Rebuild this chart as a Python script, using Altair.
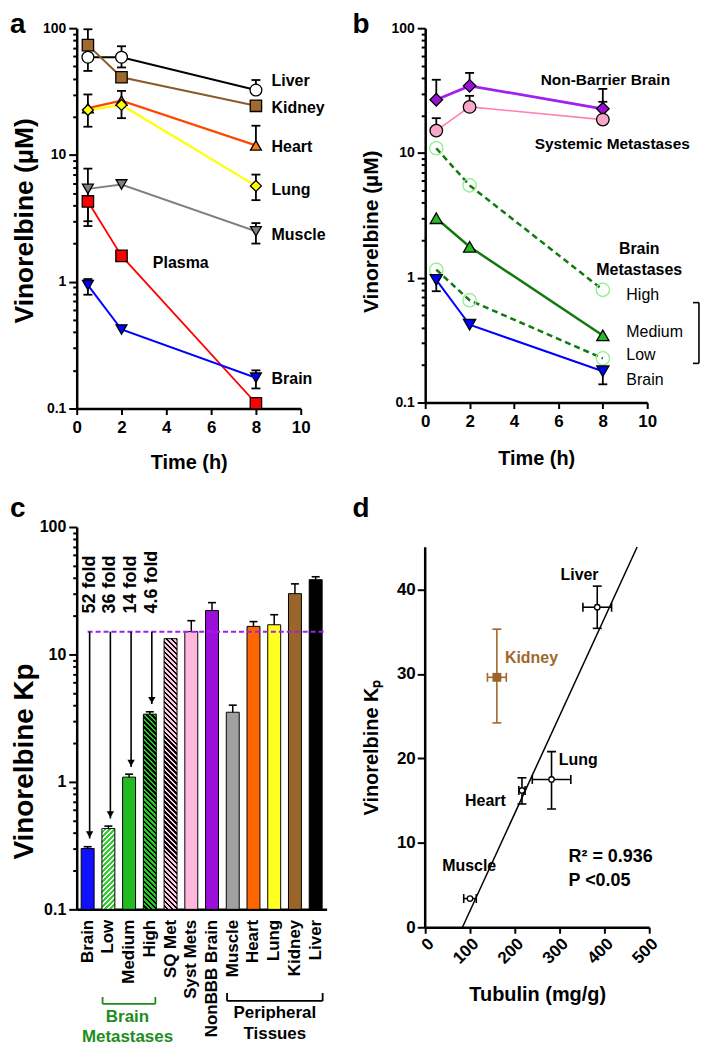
import math
import altair as alt
import pandas as pd

FONT = "Liberation Sans"

# ---------------- data: panel a ----------------
TIMES = [0.5, 2, 8]
A_LIVER = [59, 59, 32.5]
A_LIVER_HI = [72, 72, 39]
A_LIVER_LO = [46, 49, None]
A_KIDNEY = [73.5, 41, 24.4]
A_KIDNEY_HI = [98, None, None]
A_KIDNEY_LO = [None, None, None]
A_HEART = [23.4, 26.8, 11.9]
A_HEART_HI = [30, 32, 17]
A_HEART_LO = [16.7, 19.5, None]
A_LUNG = [22.6, 24.8, 5.7]
A_LUNG_HI = [None, None, 7.0]
A_LUNG_LO = [None, None, 4.4]
A_MUSCLE = [5.4, 5.85, 2.5]
A_MUSCLE_HI = [7.8, None, 2.9]
A_MUSCLE_LO = [3.0, None, 2.0]
A_PLASMA = [4.3, 1.6, 0.11]
A_PLASMA_HI = [None, None, None]
A_PLASMA_LO = [2.75, None, None]
A_BRAIN = [0.94, 0.42, 0.175]
A_BRAIN_HI = [1.05, None, 0.2]
A_BRAIN_LO = [0.79, None, 0.144]
A_LABELS = ["Liver", "Kidney", "Heart", "Lung", "Muscle", "Plasma", "Brain"]
A_LABEL_T = [8.7, 8.7, 8.7, 8.7, 8.7, 3.4, 8.7]
A_LABEL_V = [38.4, 23.5, 11.6, 5.25, 2.32, 1.40, 0.172]

# ---------------- data: panel b ----------------
B_NONBBB = [26.7, 34.5, 22.6]
B_NONBBB_HI = [38.6, 43.8, 32.6]
B_SYST = [15.1, 23.4, 18.5]
B_SYST_HI = [19.0, 28.7, 25.7]
B_HIGH = [10.9, 5.5, 0.80]
B_MEDIUM = [3.0, 1.77, 0.345]
B_LOW = [1.16, 0.66, 0.226]
B_BRAIN = [0.96, 0.42, 0.178]
B_BRAIN_LO = [0.78, None, 0.14]
NONE3 = [None, None, None]
B_BOLD_LABELS = ["Non-Barrier Brain", "Systemic Metastases"]
B_BOLD_T = [5.2, 4.93]
B_BOLD_V = [38.5, 11.9]
B_HEAD_LABELS = ["Brain", "Metastases"]
B_HEAD_T = [9.64, 9.64]
B_HEAD_V = [1.70, 1.16]
B_LEVEL_LABELS = ["High", "Medium", "Low", "Brain"]
B_LEVEL_T = [9.06, 9.06, 9.06, 9.06]
B_LEVEL_V = [0.732, 0.365, 0.24, 0.151]
B_BRACKET_T = [12.06, 12.33]
B_BRACKET_V = [0.632, 0.206]

# ---------------- data: panel c ----------------
C_CATS = ["Brain", "Low", "Medium", "High", "SQ Met", "Syst Mets", "NonBBB Brain",
          "Muscle", "Heart", "Lung", "Kidney", "Liver"]
C_KP = [0.30, 0.43, 1.09, 3.4, 13.3, 15.1, 22.1, 3.52, 16.6, 17.1, 30.0, 38.6]
C_KP_HI = [0.31, 0.45, 1.15, 3.55, None, 18.4, 25.5, 4.0, 18.1, 20.5, 35.8, 40.7]
C_REF = 15.1
C_FOLD_CATS = ["Brain", "Low", "Medium", "High"]
C_FOLD_TEXT = ["52 fold", "36 fold", "14 fold", "4.6 fold"]

# ---------------- data: panel d ----------------
D_NAMES = ["Muscle", "Heart", "Lung", "Liver", "Kidney"]
D_TUB = [100, 216, 282, 384, 160]
D_TUB_ERR = [14, 7, 43, 32, 21]
D_KP = [3.4, 16.2, 17.5, 37.9, 29.6]
D_KP_LO = [None, 14.6, 14.0, 35.4, 24.2]
D_KP_HI = [None, 17.7, 20.8, 40.4, 35.3]
D_FIT = ["Muscle", "Heart", "Lung", "Liver"]
D_LABELS = ["Liver", "Lung", "Muscle"]
D_LABEL_X = [302, 298, 38]
D_LABEL_Y = [41.7, 19.8, 7.2]
D_STATS = ["R² = 0.936", "P <0.05"]
D_STATS_X = [320, 320]
D_STATS_Y = [8.3, 5.5]

# ---------------- helpers ----------------
LOG_TICKS = [round(m * 10 ** e, 4) for e in (-1, 0, 1) for m in range(1, 10)] + [100]
MAJOR_TEST = "indexof([0.1, 1, 10, 100], datum.value) >= 0"
LABEL_EXPR = ("datum.value == 0.1 ? '0.1' : (indexof([1, 10, 100], datum.value) >= 0 ? "
              "format(datum.value, 'd') : '')")


def log_axis(fs, **kw):
    return alt.Axis(values=LOG_TICKS, labelExpr=LABEL_EXPR, labelOverlap=False,
                    tickSize={"condition": {"test": MAJOR_TEST, "value": 8}, "value": 4},
                    labelFontSize=fs, labelPadding=3, **kw)


def letter(ch, x, y):
    return alt.Chart(pd.DataFrame({"s": [ch]})).mark_text(
        align="left", baseline="alphabetic", font=FONT, fontSize=28, fontWeight="bold",
        color="black").encode(x=alt.value(x), y=alt.value(y), text="s:N")


def series_layers(series, X, Y):
    lines, markers, seg, cap = [], [], [], []
    for vals, hi, lo, st in series:
        df = pd.DataFrame({"t": TIMES, "v": vals})
        lk = dict(color=st["lc"], strokeWidth=st["lw"])
        if st.get("dash"):
            lk["strokeDash"] = st["dash"]
        lines.append(alt.Chart(df).mark_line(**lk).encode(x=X("t"), y=Y("v")))
        pk = dict(shape=st["shape"], size=st["size"], opacity=1, strokeWidth=st.get("sw", 1.3))
        if st["fill"] is None:
            pk.update(filled=False, stroke=st["stroke"])
        else:
            pk.update(filled=True, fill=st["fill"], stroke=st.get("stroke", "black"))
        markers.append(alt.Chart(df).mark_point(**pk).encode(x=X("t"), y=Y("v")))
        for t, v, h, l in zip(TIMES, vals, hi, lo):
            if h is not None:
                seg.append({"t": t, "y1": v, "y2": h})
                cap.append({"t": t, "y": h})
            if l is not None:
                seg.append({"t": t, "y1": l, "y2": v})
                cap.append({"t": t, "y": l})
    err = []
    if seg:
        err.append(alt.Chart(pd.DataFrame(seg)).mark_rule(color="black", strokeWidth=1.8)
                   .encode(x=X("t"), y=Y("y1"), y2="y2:Q"))
        err.append(alt.Chart(pd.DataFrame(cap)).mark_tick(orient="horizontal", size=9,
                   thickness=1.8, color="black", opacity=1).encode(x=X("t"), y=Y("y")))
    return lines + err + markers


def text_layer(labels, xs, ys, X, Y, align="left", weight="bold", size=16, color="black"):
    df = pd.DataFrame({"t": xs, "v": ys, "s": labels})
    return alt.Chart(df).mark_text(align=align, baseline="middle", font=FONT, fontSize=size,
                                   fontWeight=weight, color=color).encode(
        x=X("t"), y=Y("v"), text="s:N")


# ---------------- panel a ----------------
WA, HA = 225, 382
XS_A = alt.Scale(domain=[0, 10], nice=False)
YS_A = alt.Scale(type="log", domain=[0.1, 100], nice=False)
AX_XA = alt.Axis(values=[0, 2, 4, 6, 8, 10], tickSize=6, labelFontSize=17, labelPadding=5,
                 titleFontSize=20, titleY=54, titleBaseline="middle", format="d")
AX_YA = log_axis(14, titleFontSize=26.5, titleX=-52, titleY=193, titleAngle=270,
                 titleAlign="center", titleBaseline="middle")


def XA(f):
    return alt.X(f"{f}:Q", scale=XS_A, axis=AX_XA, title="Time (h)")


def YA(f):
    return alt.Y(f"{f}:Q", scale=YS_A, axis=AX_YA, title="Vinorelbine (µM)")


a_series = [
    (A_LIVER, A_LIVER_HI, A_LIVER_LO, dict(lc="black", lw=2, shape="circle", fill="white", size=140)),
    (A_KIDNEY, A_KIDNEY_HI, A_KIDNEY_LO, dict(lc="#8b5a2b", lw=2, shape="square", fill="#a0692e", size=130)),
    (A_HEART, A_HEART_HI, A_HEART_LO, dict(lc="#ff4500", lw=2.2, shape="triangle-up", fill="#ff7a10", size=120)),
    (A_LUNG, A_LUNG_HI, A_LUNG_LO, dict(lc="#ffff00", lw=2.2, shape="diamond", fill="#ffff00", size=120)),
    (A_MUSCLE, A_MUSCLE_HI, A_MUSCLE_LO, dict(lc="#808080", lw=2, shape="triangle-down", fill="#808080", size=120)),
    (A_PLASMA, A_PLASMA_HI, A_PLASMA_LO, dict(lc="#ff0000", lw=1.8, shape="square", fill="#ff0000", size=130)),
    (A_BRAIN, A_BRAIN_HI, A_BRAIN_LO, dict(lc="#0000ff", lw=2, shape="triangle-down", fill="#0000ff", size=120)),
]
a_layers = series_layers(a_series, XA, YA)
a_layers.append(text_layer(A_LABELS, A_LABEL_T, A_LABEL_V, XA, YA, size=16))
a_layers.append(letter("a", -67, 5))
panel_a = alt.layer(*a_layers).properties(width=WA, height=HA)

# ---------------- panel b ----------------
WB, HB = 223, 376
XS_B = alt.Scale(domain=[0, 10], nice=False)
YS_B = alt.Scale(type="log", domain=[0.1, 100], nice=False)
AX_XB = alt.Axis(values=[0, 2, 4, 6, 8, 10], tickSize=6, labelFontSize=17, labelPadding=5,
                 titleFontSize=20, titleY=56, titleBaseline="middle", format="d")
AX_YB = log_axis(14, titleFontSize=21, titleX=-54, titleY=204, titleAngle=270,
                 titleAlign="center", titleBaseline="middle")


def XB(f):
    return alt.X(f"{f}:Q", scale=XS_B, axis=AX_XB, title="Time (h)")


def YB(f):
    return alt.Y(f"{f}:Q", scale=YS_B, axis=AX_YB, title="Vinorelbine (µM)")


b_series = [
    (B_NONBBB, B_NONBBB_HI, NONE3, dict(lc="#a020f0", lw=2.8, shape="diamond", fill="#9b10d8", size=160)),
    (B_SYST, B_SYST_HI, NONE3, dict(lc="#ff80b8", lw=1.6, shape="circle", fill="#f7a8c8", size=160)),
    (B_HIGH, NONE3, NONE3, dict(lc="#107a10", lw=2.5, dash=[6, 4], shape="circle", fill=None,
                                stroke="#90ee90", size=180)),
    (B_MEDIUM, NONE3, NONE3, dict(lc="#107a10", lw=2.5, shape="triangle-up", fill="#22bb22", size=150)),
    (B_LOW, NONE3, NONE3, dict(lc="#107a10", lw=2.5, dash=[6, 4], shape="circle", fill=None,
                               stroke="#90ee90", size=180)),
    (B_BRAIN, NONE3, B_BRAIN_LO, dict(lc="#0000ff", lw=2, shape="triangle-down", fill="#0000ff", size=150)),
]
b_layers = series_layers(b_series, XB, YB)
b_layers.append(text_layer(B_BOLD_LABELS, B_BOLD_T, B_BOLD_V, XB, YB, size=15.5))
b_layers.append(text_layer(B_HEAD_LABELS, B_HEAD_T, B_HEAD_V, XB, YB, align="center", size=16))
b_layers.append(text_layer(B_LEVEL_LABELS, B_LEVEL_T, B_LEVEL_V, XB, YB, weight="normal", size=16))
br_v = pd.DataFrame({"t": [B_BRACKET_T[1]], "y1": [B_BRACKET_V[0]], "y2": [B_BRACKET_V[1]]})
br_h = pd.DataFrame({"t": [B_BRACKET_T[0]] * 2, "t2": [B_BRACKET_T[1]] * 2, "y": B_BRACKET_V})
b_layers.append(alt.Chart(br_v).mark_rule(color="black", strokeWidth=1.6).encode(
    x=XB("t"), y=YB("y1"), y2="y2:Q"))
b_layers.append(alt.Chart(br_h).mark_rule(color="black", strokeWidth=1.6).encode(
    x=XB("t"), x2="t2:Q", y=YB("y")))
b_layers.append(letter("b", -73, 5))
panel_b = alt.layer(*b_layers).properties(width=WB, height=HB)

# ---------------- panel c ----------------
WC, HC = 251, 384
PI, PO = 0.376, 0.216
BARW = WC / (len(C_CATS) - PI + 2 * PO) * (1 - PI)
XS_C = alt.Scale(domain=C_CATS, paddingInner=PI, paddingOuter=PO)
YS_C = alt.Scale(type="log", domain=[0.1, 100], nice=False)
AX_XC = alt.Axis(labelAngle=270, labelAlign="right", labelBaseline="middle", ticks=False,
                 labelPadding=10, labelFontSize=17)
AX_YC = log_axis(16, titleFontSize=28, titleX=-52, titleY=235, titleAngle=270,
                 titleAlign="center", titleBaseline="middle")


def XC(**kw):
    return alt.X("cat:N", scale=XS_C, axis=AX_XC, title=None, **kw)


def YC(f):
    return alt.Y(f"{f}:Q", scale=YS_C, axis=AX_YC, title="Vinorelbine Kp")


def hatch(v, c1, c2, direction, period=5.0, frac=0.5):
    h = HC * math.log10(v / 0.1) / 3.0
    w = BARW
    k = h / w
    if direction == "/":
        geo = dict(x1=0, y1=0, x2=1, y2=k)
    else:
        geo = dict(x1=0, y1=1, x2=1, y2=1 - k)
    dt = period / (w * (1 + k * k))
    n = int(math.ceil((w + h) / period)) + 1
    stops = []
    for i in range(n):
        o0 = min(1.0, i * dt)
        o1 = min(1.0, (i + frac) * dt)
        o2 = min(1.0, (i + 1) * dt)
        stops += [{"offset": round(o0, 6), "color": c1}, {"offset": round(o1, 6), "color": c1},
                  {"offset": round(o1, 6), "color": c2}, {"offset": round(o2, 6), "color": c2}]
    g = {"gradient": "linear", "stops": stops}
    g.update(geo)
    return g


df_c = pd.DataFrame({"cat": C_CATS, "kp": C_KP, "base": [0.1] * len(C_CATS)})
PLAIN = ["Brain", "Medium", "Syst Mets", "NonBBB Brain", "Muscle", "Heart", "Lung", "Kidney", "Liver"]
PLAIN_COLORS = ["#1010ff", "#22bb22", "#ffb8dc", "#9b10d8", "#a0a0a0", "#ff6600", "#ffff22",
                "#9a6528", "#000000"]
HATCHED = [("Low", "#ffffff", "#33cc33", "/"), ("High", "#22cc22", "#000000", "\\"),
           ("SQ Met", "#ffc8e4", "#000000", "\\")]

c_layers = [alt.Chart(df_c).transform_filter(alt.FieldOneOfPredicate(field="cat", oneOf=PLAIN))
            .mark_bar(stroke="black", strokeWidth=1).encode(
    x=XC(), y=YC("kp"), y2="base:Q",
    fill=alt.Fill("cat:N", scale=alt.Scale(domain=PLAIN, range=PLAIN_COLORS), legend=None))]
for cat, c1, c2, d in HATCHED:
    v = C_KP[C_CATS.index(cat)]
    c_layers.append(alt.Chart(df_c).transform_filter(alt.FieldEqualPredicate(field="cat", equal=cat))
                    .mark_bar(fill=hatch(v, c1, c2, d), stroke="black", strokeWidth=1)
                    .encode(x=XC(), y=YC("kp"), y2="base:Q"))
err_c = pd.DataFrame([{"cat": c, "y1": v, "y2": h} for c, v, h in zip(C_CATS, C_KP, C_KP_HI) if h is not None])
c_layers.append(alt.Chart(err_c).mark_rule(color="black", strokeWidth=1.5).encode(
    x=XC(), y=YC("y1"), y2="y2:Q"))
c_layers.append(alt.Chart(err_c).mark_tick(orient="horizontal", size=8, thickness=1.6,
                                           color="black", opacity=1).encode(x=XC(), y=YC("y2")))
ref_df = pd.DataFrame({"cat": ["Brain"], "y": [C_REF]})
c_layers.append(alt.Chart(ref_df).mark_rule(color="#a020f0", strokeDash=[5, 3], strokeWidth=2).encode(
    x=XC(bandPosition=0.5), x2=alt.value(WC), y=YC("y")))
arrow_df = pd.DataFrame({"cat": C_FOLD_CATS, "y1": [C_REF] * 4,
                         "tip": [C_KP[C_CATS.index(c)] * 1.2 for c in C_FOLD_CATS],
                         "s": C_FOLD_TEXT, "ty": [21] * 4})
c_layers.append(alt.Chart(arrow_df).mark_rule(color="black", strokeWidth=1.6, xOffset=2).encode(
    x=XC(), y=YC("y1"), y2="tip:Q"))
c_layers.append(alt.Chart(arrow_df).mark_point(shape="triangle-down", filled=True, color="black",
                                               opacity=1, size=55, yOffset=-4, xOffset=2).encode(
    x=XC(), y=YC("tip")))
c_layers.append(alt.Chart(arrow_df).mark_text(angle=270, align="left", baseline="middle", font=FONT,
                                              fontSize=18, fontWeight="bold", xOffset=2).encode(
    x=XC(), y=YC("ty"), text="s:N"))
# brackets under the axis labels
BRK = pd.DataFrame({
    "x": [26, 26, 79, 151, 151, 247], "x2": [79, 26, 79, 247, 151, 247],
    "y": [479, 472, 472, 476, 468, 468], "y2": [479, 479, 479, 476, 476, 476],
    "g": ["m", "m", "m", "p", "p", "p"]})
for g, col in (("m", "#1e8c1e"), ("p", "black")):
    sub = BRK[BRK.g == g]
    for _, r in sub.iterrows():
        c_layers.append(alt.Chart(pd.DataFrame({"k": [0]})).mark_rule(color=col, strokeWidth=1.8).encode(
            x=alt.value(r.x), x2=alt.value(r.x2), y=alt.value(r.y), y2=alt.value(r.y2)))
for txt, x, y, col in (("Brain", 51, 492, "#1e8c1e"), ("Metastases", 51, 512, "#1e8c1e"),
                       ("Peripheral", 199, 488, "black"), ("Tissues", 199, 509, "black")):
    c_layers.append(alt.Chart(pd.DataFrame({"s": [txt]})).mark_text(
        align="center", baseline="middle", font=FONT, fontSize=17, fontWeight="bold", color=col).encode(
        x=alt.value(x), y=alt.value(y), text="s:N"))
c_layers.append(letter("c", -67, -10))
panel_c = alt.layer(*c_layers).properties(width=WC, height=HC)

# ---------------- panel d ----------------
WD, HD = 225, 402
XS_D = alt.Scale(domain=[0, 500], nice=False)
YS_D = alt.Scale(domain=[0, 47.4], nice=False)
AX_XD = alt.Axis(values=[0, 100, 200, 300, 400, 500], labelAngle=315, tickSize=6, labelFontSize=17,
                 titleFontSize=20, titleY=68, titleBaseline="middle")
AX_YD = alt.Axis(values=[0, 10, 20, 30, 40], tickSize=8, labelFontSize=17, domain=False,
                 titleFontSize=20, titleX=-54, titleY=221, titleAngle=270, titleAlign="center",
                 titleBaseline="middle")


def XD(f):
    return alt.X(f"{f}:Q", scale=XS_D, axis=AX_XD, title="Tubulin (mg/g)")


def YD(f):
    return alt.Y(f"{f}:Q", scale=YS_D, axis=AX_YD, title="Vinorelbine Kₚ")


df_d = pd.DataFrame({"name": D_NAMES, "tub": D_TUB, "kp": D_KP})
d_layers = [alt.Chart(pd.DataFrame({"x": [0], "y1": [0], "y2": [45]})).mark_rule(
    color="black", strokeWidth=2.5).encode(x=XD("x"), y=YD("y1"), y2="y2:Q")]
d_layers.append(alt.Chart(df_d).transform_filter(alt.FieldOneOfPredicate(field="name", oneOf=D_FIT))
                .transform_regression("tub", "kp", extent=[83.2, 473])
                .mark_line(color="black", strokeWidth=1.5).encode(x=XD("tub"), y=YD("kp")))
vseg, hseg = [], []
for n, t, te, k, lo, hi in zip(D_NAMES, D_TUB, D_TUB_ERR, D_KP, D_KP_LO, D_KP_HI):
    g = "k" if n == "Kidney" else "o"
    hseg.append({"g": g, "x1": t - te, "x2": t + te, "y": k})
    if lo is not None:
        vseg.append({"g": g, "x": t, "y1": lo, "y2": hi})
vseg, hseg = pd.DataFrame(vseg), pd.DataFrame(hseg)
for g, col in (("o", "black"), ("k", "#a0682a")):
    vs, hs = vseg[vseg.g == g], hseg[hseg.g == g]
    d_layers.append(alt.Chart(vs).mark_rule(color=col, strokeWidth=1.6).encode(
        x=XD("x"), y=YD("y1"), y2="y2:Q"))
    d_layers.append(alt.Chart(vs).mark_tick(orient="horizontal", size=9, thickness=1.6, color=col,
                                            opacity=1).encode(x=XD("x"), y=YD("y1")))
    d_layers.append(alt.Chart(vs).mark_tick(orient="horizontal", size=9, thickness=1.6, color=col,
                                            opacity=1).encode(x=XD("x"), y=YD("y2")))
    d_layers.append(alt.Chart(hs).mark_rule(color=col, strokeWidth=1.6).encode(
        x=XD("x1"), x2="x2:Q", y=YD("y")))
    d_layers.append(alt.Chart(hs).mark_tick(orient="vertical", size=9, thickness=1.6, color=col,
                                            opacity=1).encode(x=XD("x1"), y=YD("y")))
    d_layers.append(alt.Chart(hs).mark_tick(orient="vertical", size=9, thickness=1.6, color=col,
                                            opacity=1).encode(x=XD("x2"), y=YD("y")))
d_layers.append(alt.Chart(df_d).transform_filter(alt.FieldOneOfPredicate(field="name", oneOf=D_FIT))
                .mark_point(shape="circle", filled=True, fill="white", stroke="black", strokeWidth=1.3,
                            size=30, opacity=1).encode(x=XD("tub"), y=YD("kp")))
d_layers.append(alt.Chart(df_d).transform_filter(alt.FieldEqualPredicate(field="name", equal="Kidney"))
                .mark_point(shape="square", filled=True, color="#9a6528", size=80, opacity=1)
                .encode(x=XD("tub"), y=YD("kp")))
d_layers.append(text_layer(D_LABELS, D_LABEL_X, D_LABEL_Y, XD, YD, size=16))
d_layers.append(text_layer(["Heart"], [180], [15.0], XD, YD, align="right", size=16))
d_layers.append(text_layer(["Kidney"], [178], [31.9], XD, YD, size=16, color="#a0682a"))
d_layers.append(text_layer(D_STATS, D_STATS_X, D_STATS_Y, XD, YD, size=18))
d_layers.append(letter("d", -73, -10))
panel_d = alt.layer(*d_layers).properties(width=WD, height=HD)

chart = alt.concat(panel_a, panel_b, panel_c, panel_d, columns=2,
                   spacing={"row": 99, "column": 99}, bounds="flush", align="all").properties(
    padding={"left": 2, "top": 1, "right": 0, "bottom": 0}
).configure_view(stroke=None).configure_axis(
    grid=False, domainColor="black", domainWidth=2.5, tickColor="black", tickWidth=2,
    labelFont=FONT, labelFontWeight="bold", labelColor="black", labelFlush=False,
    titleFont=FONT, titleFontWeight="bold", titleColor="black")

chart.save("out.html", embed_options={"renderer": "svg", "actions": False})
